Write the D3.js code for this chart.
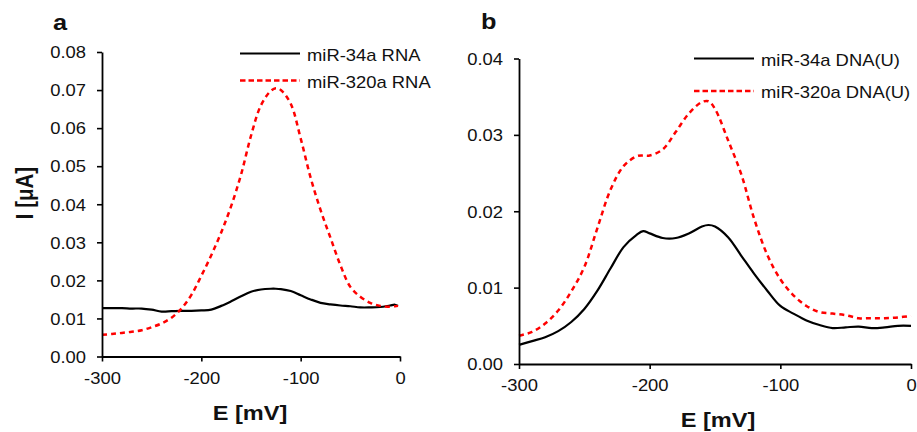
<!DOCTYPE html>
<html>
<head>
<meta charset="utf-8">
<script src="https://cdn.jsdelivr.net/npm/d3@7"></script>
<style>
  html, body { margin: 0; padding: 0; background: #fff; }
  svg { display: block; font-family: "Liberation Sans", Arial, sans-serif; }
</style>
</head>
<body>
<svg id="chart" width="917" height="432"></svg>
<script>
// ---- Data ----
const potentialA = [-300,-290,-280,-270,-260,-250,-240,-230,-220,-210,-200,-190,-180,-170,-160,-150,-140,-130,-125,-120,-110,-100,-90,-80,-70,-60,-50,-40,-30,-20,-10,-5,-2];
const miR34aRNA  = [0.0127,0.0127,0.0127,0.0126,0.0126,0.0123,0.0118,0.0119,0.0120,0.0120,0.0121,0.0123,0.0133,0.0145,0.0158,0.0170,0.0176,0.0178,0.0178,0.0177,0.0172,0.0161,0.0150,0.0141,0.0137,0.0134,0.0132,0.0129,0.0129,0.0130,0.0134,0.0136,0.0133];
const miR320aRNA = [0.0057,0.0059,0.0062,0.0065,0.0069,0.0077,0.0087,0.0102,0.0126,0.0162,0.0212,0.0266,0.0326,0.0395,0.0478,0.0580,0.0660,0.0698,0.0705,0.0700,0.0664,0.0573,0.0470,0.0385,0.0312,0.0240,0.0183,0.0157,0.0141,0.0133,0.0131,0.0132,0.0133];

const potentialB = [-300,-290,-280,-270,-260,-250,-240,-230,-220,-210,-205,-200,-190,-180,-170,-160,-155,-150,-140,-130,-120,-110,-100,-90,-80,-70,-60,-50,-40,-30,-20,-10,0];
const miR34aDNA  = [0.0025,0.0030,0.0035,0.0043,0.0055,0.0072,0.0096,0.0125,0.0153,0.0169,0.0174,0.0171,0.0165,0.0165,0.0171,0.0180,0.0182,0.0180,0.0166,0.0142,0.0118,0.0096,0.0076,0.0066,0.0057,0.0051,0.0047,0.0048,0.0049,0.0047,0.0048,0.0050,0.0050];
const miR320aDNA = [0.0037,0.0042,0.0053,0.0070,0.0095,0.0127,0.0178,0.0228,0.0259,0.0272,0.0273,0.0273,0.0281,0.0304,0.0328,0.0343,0.0344,0.0334,0.0293,0.0249,0.0190,0.0143,0.0111,0.0090,0.0076,0.0068,0.0066,0.0064,0.0060,0.0060,0.0060,0.0061,0.0063];

const xTicks = [-300,-200,-100,0];
const yTicksA = [0,0.01,0.02,0.03,0.04,0.05,0.06,0.07,0.08];
const yTicksB = [0,0.01,0.02,0.03,0.04];

const legendA = ["miR-34a RNA", "miR-320a RNA"];
const legendB = ["miR-34a DNA(U)", "miR-320a DNA(U)"];
const panelLabels = ["a", "b"];
const xTitle = "E [mV]";
const yTitle = "I [\u03BCA]";

// ---- Drawing ----
const SX = 1.15; // horizontal stretch of the original raster text
const svg = d3.select("#chart");
svg.append("rect").attr("width", 917).attr("height", 432).attr("fill", "#fff");

function panel(opts) {
  const x = d3.scaleLinear().domain([-300, 0]).range(opts.xr);
  const y = d3.scaleLinear().domain([0, opts.ymax]).range(opts.yr);
  const g = svg.append("g");

  const line = d3.line().curve(d3.curveCatmullRom.alpha(0.5))
    .x(d => x(d[0])).y(d => y(d[1]));

  // series
  g.append("path")
    .datum(opts.E.map((e, i) => [e, opts.s1[i]]))
    .attr("d", line).attr("fill", "none")
    .attr("stroke", "#000").attr("stroke-width", 2.2);
  g.append("path")
    .datum(opts.E.map((e, i) => [e, opts.s2[i]]))
    .attr("d", line).attr("fill", "none")
    .attr("stroke", "#ff0000").attr("stroke-width", 2.5)
    .attr("stroke-dasharray", "5,4");

  // axes
  const ax = g.append("g").attr("transform", `translate(0,${opts.yr[0]})`)
    .call(d3.axisBottom(x).tickValues(xTicks).tickFormat(d => String(d))
      .tickSize(5).tickSizeOuter(0));
  const ay = g.append("g").attr("transform", `translate(${opts.xr[0]},0)`)
    .call(d3.axisLeft(y).tickValues(opts.yTicks).tickFormat(d3.format(".2f"))
      .tickSize(5).tickSizeOuter(0));
  [ax, ay].forEach(a => {
    a.select(".domain").attr("stroke", "#000").attr("stroke-width", 1.8);
    a.selectAll(".tick line").attr("stroke", "#000").attr("stroke-width", 1.6);
    a.selectAll(".tick text").attr("fill", "#111")
      .style("font-family", '"Liberation Sans", Arial, sans-serif')
      .style("font-size", "16px");
  });
  ax.selectAll(".tick text").attr("y", null).attr("dy", "0.71em")
    .attr("transform", `translate(0,16) scale(${SX},1)`);
  ay.selectAll(".tick text").attr("x", null).attr("dy", "0.36em")
    .attr("transform", `translate(-16,0) scale(${SX},1)`);

  // axis title
  g.append("text")
    .attr("transform", `translate(${opts.xTitlePos[0]},${opts.xTitlePos[1]}) scale(${SX},1)`)
    .attr("text-anchor", "middle").attr("font-weight", "bold")
    .attr("font-size", 20.5).attr("fill", "#111").text(xTitle);

  // panel label
  g.append("text")
    .attr("transform", `translate(${opts.labelPos[0]},${opts.labelPos[1]}) scale(${SX},1)`)
    .attr("font-weight", "bold").attr("font-size", 22).attr("fill", "#111")
    .text(opts.label);

  // legend
  const lg = g.append("g");
  opts.legend.forEach((name, i) => {
    const ly = opts.legY[i];
    lg.append("line").attr("x1", opts.legX[0]).attr("x2", opts.legX[1])
      .attr("y1", ly).attr("y2", ly)
      .attr("stroke", i === 0 ? "#000" : "#ff0000")
      .attr("stroke-width", i === 0 ? 2.2 : 2.5)
      .attr("stroke-dasharray", i === 0 ? null : "5.5,3");
    lg.append("text")
      .attr("transform", `translate(${opts.legX[1] + 7},${ly + 7}) scale(${SX},1)`)
      .attr("font-size", 16).attr("fill", "#111").text(name);
  });
  return g;
}

panel({
  xr: [102, 400], yr: [356.5, 52], ymax: 0.08, yTicks: yTicksA,
  E: potentialA, s1: miR34aRNA, s2: miR320aRNA,
  xTitlePos: [250, 420], labelPos: [53, 30], label: panelLabels[0],
  legend: legendA, legX: [240, 300], legY: [53.5, 80.5]
});
panel({
  xr: [519, 911], yr: [364, 58.5], ymax: 0.04, yTicks: yTicksB,
  E: potentialB, s1: miR34aDNA, s2: miR320aDNA,
  xTitlePos: [718, 427], labelPos: [481, 29], label: panelLabels[1],
  legend: legendB, legX: [694, 754], legY: [58.5, 91]
});

// y-axis title (panel a only)
svg.append("text")
  .attr("transform", `translate(33,193) scale(${SX},1) rotate(-90)`)
  .attr("text-anchor", "middle").attr("font-weight", "bold")
  .attr("font-size", 20.5).attr("fill", "#111").text(yTitle);
</script>
</body>
</html>
